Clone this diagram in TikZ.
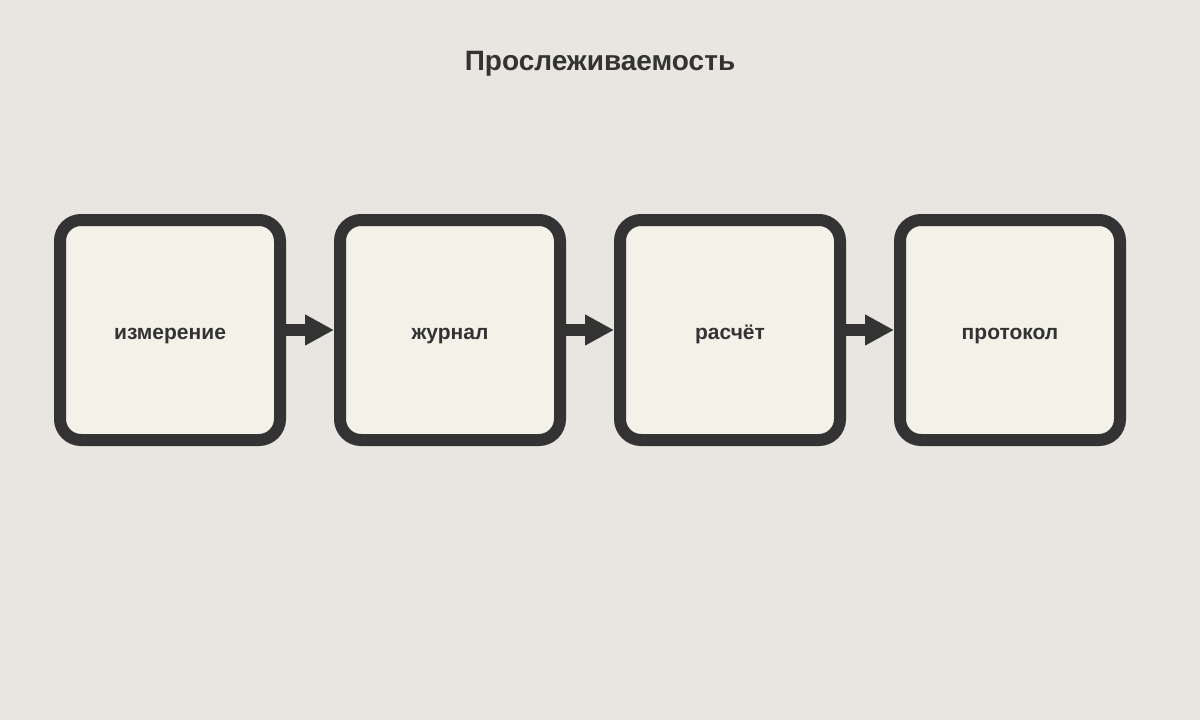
\documentclass[tikz,border=0pt]{standalone}
\usepackage{fontspec}
\setmainfont{Liberation Sans}
\usetikzlibrary{positioning}
\usetikzlibrary{arrows.meta}
\definecolor{bgcol}{HTML}{E9E6E1}
\definecolor{boxfill}{HTML}{F3F1E8}
\definecolor{ink}{HTML}{333333}
\tikzset{
	stage/.style={draw=ink, fill=boxfill, line width=12pt, rounded corners=21pt, minimum width=220pt, minimum height=220pt, outer sep=0pt, text=ink, font=\bfseries\fontsize{21}{25}\selectfont, text height=20pt, text depth=2pt},
	% title above the chain
	heading/.style={text=ink, font=\bfseries\fontsize{28}{32}\selectfont, text height=22pt, text depth=2pt}
}
\begin{document}
\begin{tikzpicture}
			\fill[bgcol] (0pt,0pt) rectangle (1200pt,-720pt);
			\node (title) [heading] at (600pt,-60pt) {Прослеживаемость};
			
			\node (meas) [stage] at (170pt,-330pt) {измерение};
			\node (log) [stage, right=60pt of meas] {журнал};
			\node (calc) [stage, right=60pt of log] {расчёт};
			\node (report) [stage, right=60pt of calc] {протокол};
			
			\begin{scope}[ink, line width=12pt, -{Triangle[length=29pt, width=29pt]}, shorten >=6pt]
				\draw (meas) -- (log);
				\draw (log) -- (calc);
				\draw (calc) -- (report);
			\end{scope}
		\end{tikzpicture}
\end{document}
